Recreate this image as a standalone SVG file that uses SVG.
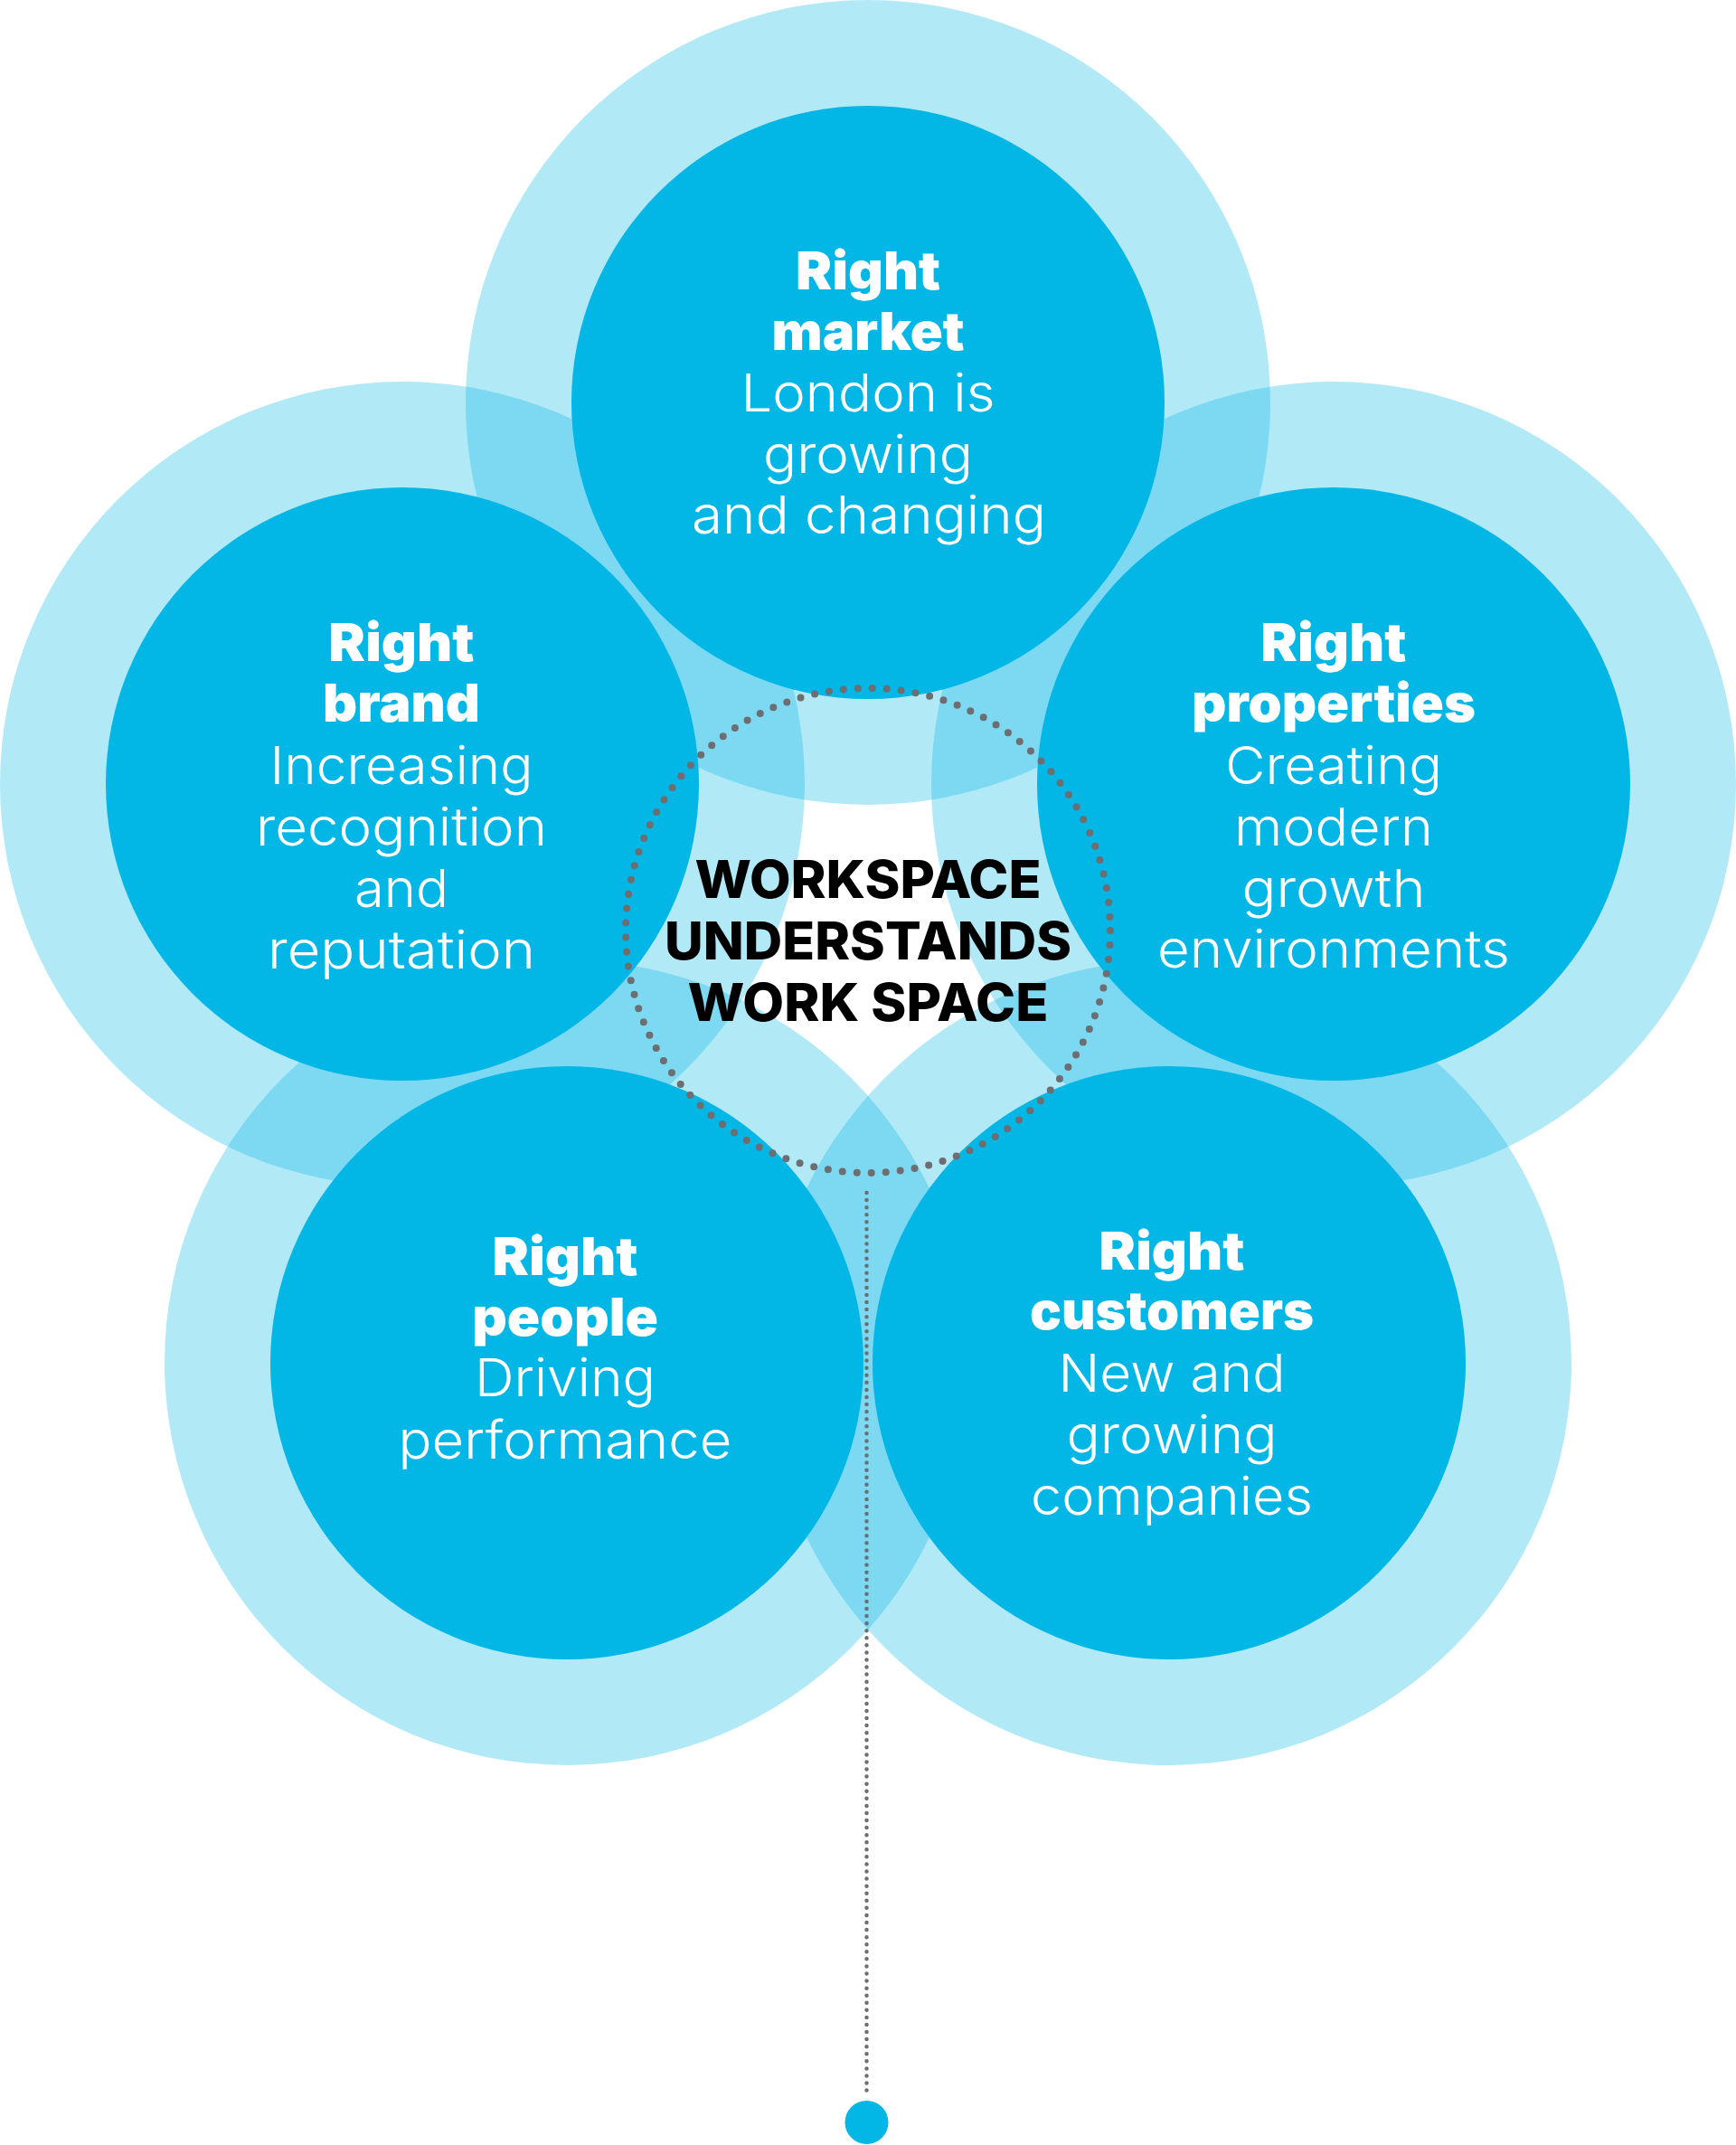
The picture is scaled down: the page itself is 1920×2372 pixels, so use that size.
<svg xmlns="http://www.w3.org/2000/svg" width="1920" height="2372" viewBox="0 0 1920 2372">
<style>
.halo{fill:#00b5e6;fill-opacity:0.3}
.core{fill:#02b6e6}
.b{font-family:Inter,"Liberation Sans",sans-serif;font-weight:900;font-size:58px;fill:#ffffff;text-anchor:middle}
.l{font-family:Inter,"Liberation Sans",sans-serif;font-weight:300;font-size:58px;fill:#ffffff;text-anchor:middle}
.c{font-family:Inter,"Liberation Sans",sans-serif;font-weight:800;font-size:58px;fill:#000000;text-anchor:middle}
.dots{fill:none;stroke:#6d6e71;stroke-linecap:round}
</style>
<rect width="1920" height="2372" fill="#ffffff"/>
<g id="halos">
<circle class="halo" cx="960" cy="445" r="445"/>
<circle class="halo" cx="445" cy="867" r="445"/>
<circle class="halo" cx="1475" cy="867" r="445"/>
<circle class="halo" cx="627" cy="1507" r="445"/>
<circle class="halo" cx="1293" cy="1507" r="445"/>
</g>
<g id="market">
<circle class="core" cx="960" cy="445" r="328"/>
<text class="b" x="960" y="320" textLength="160" lengthAdjust="spacingAndGlyphs">Right</text>
<text class="b" x="960" y="387" textLength="213" lengthAdjust="spacingAndGlyphs">market</text>
<text class="l" x="960" y="455" textLength="281" lengthAdjust="spacingAndGlyphs">London is</text>
<text class="l" x="960" y="523" textLength="232" lengthAdjust="spacingAndGlyphs">growing</text>
<text class="l" x="961" y="590" textLength="392" lengthAdjust="spacingAndGlyphs">and changing</text>
</g>
<g id="brand">
<circle class="core" cx="445" cy="867" r="328"/>
<text class="b" x="444" y="731" textLength="161" lengthAdjust="spacingAndGlyphs">Right</text>
<text class="b" x="444" y="798" textLength="174" lengthAdjust="spacingAndGlyphs">brand</text>
<text class="l" x="444" y="867" textLength="291" lengthAdjust="spacingAndGlyphs">Increasing</text>
<text class="l" x="444" y="935" textLength="322" lengthAdjust="spacingAndGlyphs">recognition</text>
<text class="l" x="444" y="1003" textLength="104" lengthAdjust="spacingAndGlyphs">and</text>
<text class="l" x="444" y="1071" textLength="296" lengthAdjust="spacingAndGlyphs">reputation</text>
</g>
<g id="properties">
<circle class="core" cx="1475" cy="867" r="328"/>
<text class="b" x="1475" y="731" textLength="161" lengthAdjust="spacingAndGlyphs">Right</text>
<text class="b" x="1475" y="798" textLength="314" lengthAdjust="spacingAndGlyphs">properties</text>
<text class="l" x="1475" y="867" textLength="240" lengthAdjust="spacingAndGlyphs">Creating</text>
<text class="l" x="1475" y="935" textLength="220" lengthAdjust="spacingAndGlyphs">modern</text>
<text class="l" x="1475" y="1003" textLength="203" lengthAdjust="spacingAndGlyphs">growth</text>
<text class="l" x="1475" y="1070" textLength="390" lengthAdjust="spacingAndGlyphs">environments</text>
</g>
<g id="people">
<circle class="core" cx="627" cy="1507" r="328"/>
<text class="b" x="625" y="1410" textLength="161" lengthAdjust="spacingAndGlyphs">Right</text>
<text class="b" x="625" y="1477" textLength="206" lengthAdjust="spacingAndGlyphs">people</text>
<text class="l" x="625" y="1544" textLength="200" lengthAdjust="spacingAndGlyphs">Driving</text>
<text class="l" x="625" y="1613" textLength="369" lengthAdjust="spacingAndGlyphs">performance</text>
</g>
<g id="customers">
<circle class="core" cx="1293" cy="1507" r="328"/>
<text class="b" x="1296" y="1404" textLength="161" lengthAdjust="spacingAndGlyphs">Right</text>
<text class="b" x="1296" y="1470" textLength="314" lengthAdjust="spacingAndGlyphs">customers</text>
<text class="l" x="1296" y="1539" textLength="251" lengthAdjust="spacingAndGlyphs">New and</text>
<text class="l" x="1296" y="1607" textLength="233" lengthAdjust="spacingAndGlyphs">growing</text>
<text class="l" x="1296" y="1675" textLength="312" lengthAdjust="spacingAndGlyphs">companies</text>
</g>
<g id="center">
<circle class="dots" cx="960" cy="1029" r="268" stroke-width="8" stroke-dasharray="0 16.04"/>
<text class="c" x="960" y="993" textLength="383" lengthAdjust="spacingAndGlyphs">WORKSPACE</text>
<text class="c" x="960" y="1061" textLength="450" lengthAdjust="spacingAndGlyphs">UNDERSTANDS</text>
<text class="c" x="960" y="1129" textLength="399" lengthAdjust="spacingAndGlyphs">WORK SPACE</text>
</g>
<g id="connectors">
<line class="dots" x1="958.5" y1="1319" x2="958.5" y2="2318" stroke-width="4.5" stroke-dasharray="0 8.07"/>
</g>
<g id="endpoint">
<circle cx="958.5" cy="2347" r="24" fill="#02b6e6"/>
</g>
</svg>
